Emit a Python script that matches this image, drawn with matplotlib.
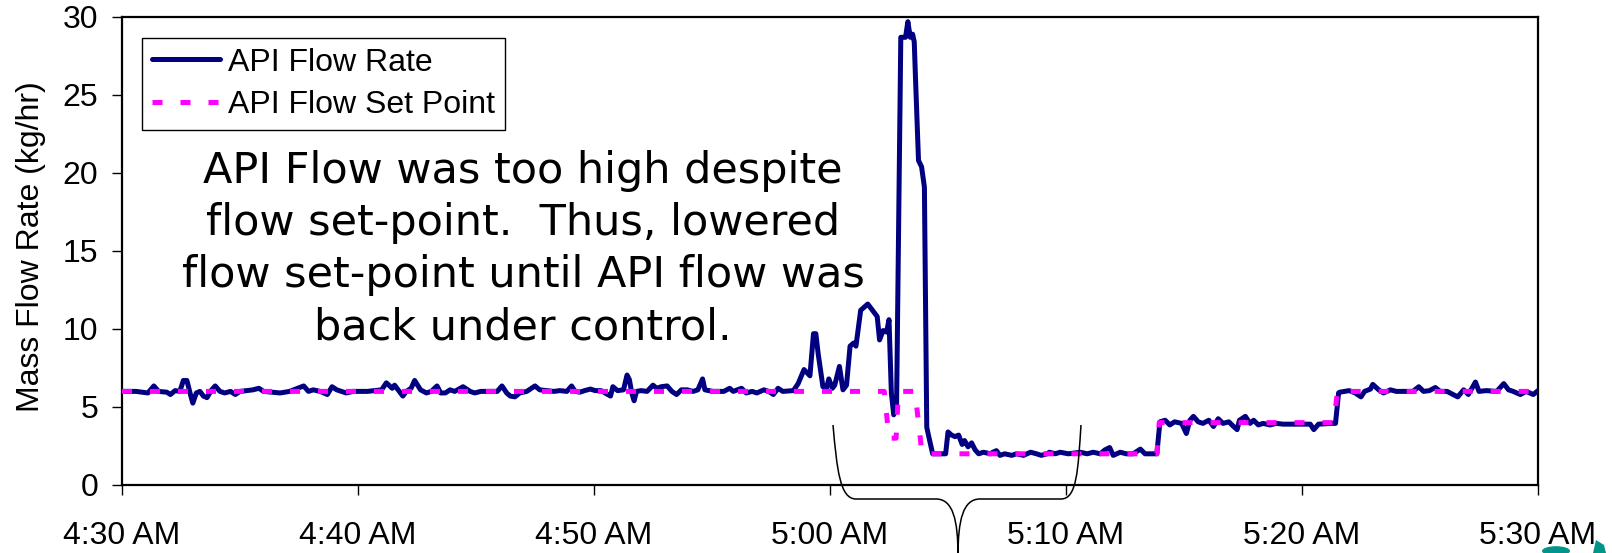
import matplotlib
matplotlib.use("Agg")
import matplotlib.pyplot as plt
from matplotlib.path import Path
from matplotlib.patches import PathPatch, Circle, Polygon

# ---- data: minutes after 4:30 AM ----
flow_minutes = [
    0.0, 0.6, 1.1, 1.35, 1.55, 1.9, 2.05, 2.25, 2.45, 2.6, 2.75, 2.9, 3.0, 3.15, 3.3,
    3.45, 3.6, 3.8, 3.95, 4.15, 4.35, 4.6, 4.8, 5.0, 5.55, 5.8, 6.0, 6.7, 7.1, 7.7,
    7.9, 8.1, 8.4, 8.7, 8.9, 9.1, 9.5, 9.8, 10.4, 11.0, 11.2, 11.45, 11.55, 11.8, 11.9,
    12.05, 12.25, 12.4, 12.65, 12.9, 13.1, 13.35, 13.5, 13.7, 13.9, 14.1, 14.45, 14.75,
    14.95, 15.2, 15.9, 16.1, 16.3, 16.45, 16.65, 16.85, 17.15, 17.5, 17.7, 18.3, 18.55,
    18.85, 19.05, 19.2, 19.4, 19.6, 19.85, 20.05, 20.3, 20.7, 20.8, 21.0, 21.25, 21.4,
    21.5, 21.6, 21.7, 21.8, 22.0, 22.25, 22.5, 22.65, 22.85, 23.1, 23.3, 23.5, 23.7,
    23.95, 24.2, 24.4, 24.6, 24.7, 25.05, 25.5, 25.75, 25.9, 26.25, 26.45, 26.7, 26.9,
    27.2, 27.4, 27.6, 27.8, 28.0, 28.45,
    28.65, 28.9, 29.15, 29.3, 29.4, 29.5, 29.7, 29.85, 29.95, 30.1, 30.2, 30.4, 30.55,
    30.7, 30.85, 31.0, 31.1, 31.3, 31.6, 31.8, 32.0, 32.1, 32.25, 32.4, 32.5, 32.6,
    32.7, 32.82, 33.0, 33.2, 33.3, 33.4, 33.5, 33.57, 33.62, 33.75, 33.88, 34.0, 34.1,
    34.2, 34.35, 34.9,
    35.0, 35.15, 35.3, 35.45, 35.6, 35.7, 35.85, 36.0, 36.15, 36.3, 36.5, 36.8, 36.9,
    37.05, 37.2, 37.4, 37.7, 37.9, 38.2, 38.35, 38.5, 38.75, 38.95, 39.2, 39.3, 39.55,
    39.75, 40.1, 40.6, 40.9, 41.15, 41.45, 41.65, 41.85, 42.0, 42.3, 42.55, 42.85,
    43.15, 43.35, 43.7, 43.85,
    43.98, 44.2, 44.4, 44.6, 44.9, 45.1, 45.25, 45.4, 45.6, 45.8, 46.05, 46.25, 46.45,
    46.65, 46.9, 47.1, 47.25, 47.35, 47.6, 47.8, 47.95, 48.15, 48.35, 48.65, 48.9,
    49.2, 49.5, 49.9, 50.35, 50.5, 50.7, 51.3, 51.42,
    51.55, 51.6, 52.0, 52.25, 52.5, 52.65, 52.9, 53.0, 53.25, 53.45, 53.75, 54.0,
    54.45, 54.7, 54.95, 55.15, 55.4, 55.65, 55.85, 56.15, 56.4, 56.6, 56.85, 57.05,
    57.2, 57.35, 57.5, 57.8, 58.25, 58.55, 58.75, 58.95, 59.25, 59.5, 59.8, 60.0,
]
flow_rate = [
    6.0, 6.0, 5.9, 6.35, 6.0, 5.95, 5.8, 6.05, 6.0, 6.7, 6.7, 5.8, 5.25, 5.9, 6.0,
    5.7, 5.6, 6.1, 6.35, 6.0, 5.9, 6.0, 5.8, 6.0, 6.1, 6.2, 6.0, 5.9, 6.0, 6.35,
    6.0, 6.1, 6.0, 5.8, 6.3, 6.1, 5.9, 6.0, 6.0, 6.1, 6.55, 6.2, 6.4, 5.9, 5.7,
    6.0, 6.2, 6.7, 6.1, 5.9, 6.0, 6.35, 5.9, 5.9, 6.1, 6.0, 6.3, 6.0,
    5.9, 6.0, 6.0, 6.35, 5.9, 5.7, 5.65, 5.9, 6.0, 6.35, 6.1, 6.0, 6.05,
    6.0, 6.35, 6.0, 5.95, 6.05, 6.15, 6.05, 6.05, 5.7, 6.3, 6.05, 6.1, 7.05,
    6.75, 5.9, 5.4, 6.0, 6.05, 6.0, 6.4, 6.2, 6.3, 6.35, 6.0, 5.8, 6.1,
    6.1, 6.0, 6.1, 6.8, 6.1, 6.0, 6.0, 6.2, 6.0, 6.2, 5.9, 6.0, 5.9,
    6.1, 6.0, 5.8, 6.2, 6.0, 6.05,
    6.5, 7.4, 7.0, 9.7, 9.7, 8.4, 6.3, 6.2, 6.8, 6.2, 6.4, 7.6, 6.1,
    6.4, 8.9, 9.1, 8.9, 11.2, 11.6, 11.2, 10.8, 9.3, 9.9, 9.8, 10.6, 5.9,
    4.5, 5.0, 28.7, 28.7, 29.7, 28.7, 28.9, 28.4, 26.2, 20.8, 20.4, 19.1, 3.7,
    3.0, 2.0, 2.0,
    3.4, 3.2, 3.1, 3.2, 2.6, 2.85, 2.45, 2.7, 2.25, 2.0, 2.1, 2.0, 2.1,
    2.2, 1.9, 2.0, 1.9, 2.0, 1.9, 2.0, 2.1, 2.0, 1.9, 2.0, 2.1, 2.0,
    2.1, 2.0, 2.1, 2.0, 2.1, 2.0, 2.25, 2.4, 1.9, 2.1, 2.0, 2.0,
    2.3, 2.0, 2.0, 2.0,
    4.05, 4.15, 3.85, 4.05, 3.95, 3.3, 4.15, 4.4, 4.05, 3.95, 4.15, 3.75, 4.25,
    3.95, 4.05, 3.75, 3.55, 4.15, 4.4, 3.95, 4.15, 3.85, 3.95, 3.85, 3.95,
    3.9, 3.9, 3.9, 3.9, 3.55, 3.9, 3.95, 3.95,
    5.9, 5.95, 6.05, 5.9, 5.65, 6.0, 6.15, 6.45, 6.1, 5.9, 6.1, 6.0,
    6.0, 6.0, 6.3, 6.0, 6.05, 6.25, 6.0, 6.0, 5.8, 5.65, 6.1, 5.8,
    6.2, 6.6, 6.0, 6.05, 6.0, 6.5, 6.1, 6.0, 5.8, 6.0, 5.8, 6.05,
]

setpoint_minutes = [0.0, 32.3, 32.5, 32.8, 32.9, 33.6, 33.9, 43.85, 43.95, 51.35, 51.5, 60.0]
setpoint_value = [6.0, 6.0, 3.0, 3.0, 6.0, 6.0, 2.0, 2.0, 4.0, 4.0, 6.0, 6.0]

tick_minutes = [0, 10, 20, 30, 40, 50, 60]
tick_labels = ["4:30 AM", "4:40 AM", "4:50 AM", "5:00 AM", "5:10 AM", "5:20 AM", "5:30 AM"]
y_ticks = [0, 5, 10, 15, 20, 25, 30]

note_lines = [
    "API Flow was too high despite",
    "flow set-point.  Thus, lowered",
    "flow set-point until API flow was",
    "back under control.",
]

W, H = 1612, 553
fig = plt.figure(figsize=(W / 100, H / 100), dpi=100)
fig.patch.set_facecolor("white")

L, R, T, B = 122, 1538, 17, 485
ax = fig.add_axes([L / W, 1 - B / H, (R - L) / W, (B - T) / H])

ax.plot(flow_minutes, flow_rate, color="#000080", lw=3.6,
        solid_joinstyle="round", solid_capstyle="round",
        label="API Flow Rate", zorder=3)
ax.plot(setpoint_minutes, setpoint_value, color="#FF00FF", lw=3.6,
        linestyle=(0, (2.0, 3.6)), dash_capstyle="butt",
        label="API Flow Set Point", zorder=4)

ax.set_xlim(0, 60)
ax.set_ylim(0, 30)
ax.set_xticks(tick_minutes)
ax.set_xticklabels(tick_labels)
ax.set_yticks(y_ticks)

for lbl in ax.get_xticklabels() + ax.get_yticklabels():
    lbl.set_fontfamily("Liberation Sans")
    lbl.set_fontsize(23)
ax.tick_params(axis="x", direction="out", length=7, width=1, pad=19, colors="black")
ax.tick_params(axis="y", direction="out", length=7, width=1, pad=10, colors="black")
for sp in ax.spines.values():
    sp.set_linewidth(1.6)
    sp.set_color("black")

ax.set_ylabel("Mass Flow Rate (kg/hr)", fontfamily="Liberation Sans", fontsize=23)
ax.yaxis.set_label_coords((31 - L) / (R - L), (B - 247) / (B - T))
ax.yaxis.label.set_verticalalignment("center")

leg = ax.legend(loc="upper left",
                bbox_to_anchor=((142 - L) / (R - L), (B - 38) / (B - T)),
                prop={"family": "Liberation Sans", "size": 23},
                frameon=True, fancybox=False, edgecolor="black", framealpha=1,
                borderaxespad=0, borderpad=0.3, handlelength=2.15,
                handletextpad=0.25, labelspacing=0.4)
leg.get_frame().set_linewidth(1.0)

# explanatory note
baselines = [183, 235, 287, 339]
for line, yb in zip(note_lines, baselines):
    fig.text(523 / W, 1 - yb / H, line, ha="center", va="baseline",
             fontfamily="DejaVu Sans", fontsize=31, color="black")

# curly brace under the transient
def fxy(x, y):
    return (x / W, 1 - y / H)

verts = [
    fxy(833, 425), fxy(837, 470), fxy(840, 499), fxy(856, 499),
    fxy(936, 499),
    fxy(953, 499), fxy(958, 520), fxy(958, 556),
    fxy(958, 520), fxy(963, 499), fxy(980, 499),
    fxy(1061, 499),
    fxy(1077, 499), fxy(1078, 470), fxy(1081, 425),
]
codes = [Path.MOVETO, Path.CURVE4, Path.CURVE4, Path.CURVE4,
         Path.LINETO,
         Path.CURVE4, Path.CURVE4, Path.CURVE4,
         Path.CURVE4, Path.CURVE4, Path.CURVE4,
         Path.LINETO,
         Path.CURVE4, Path.CURVE4, Path.CURVE4]
brace = PathPatch(Path(verts, codes), transform=fig.transFigure,
                  facecolor="none", edgecolor="black", lw=1.1, zorder=5)
fig.patches.append(brace)

# corner emblem, mostly cut off by the figure edge
fig.patches.append(Circle(fxy(1556, 578), 35 / W, transform=fig.transFigure,
                          facecolor="#a8dcd6", edgecolor="none", zorder=0))
fig.patches.append(Circle(fxy(1556, 551), 14 / W, transform=fig.transFigure,
                          facecolor="#00958a", edgecolor="none", zorder=0))
fig.patches.append(Polygon([fxy(1593, 553), fxy(1596, 540), fxy(1604, 545),
                            fxy(1606, 553)], closed=True, transform=fig.transFigure,
                           facecolor="#00958a", edgecolor="none", zorder=0))

fig.savefig("out.png", dpi=100, facecolor="white")
